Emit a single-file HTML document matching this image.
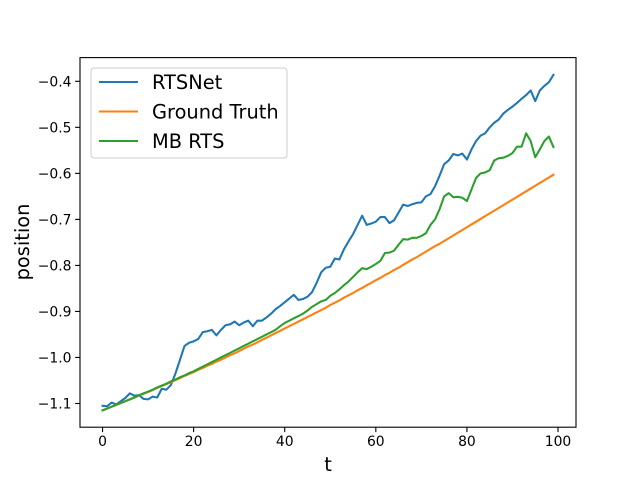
<!DOCTYPE html>
<html><head><meta charset="utf-8">
<style>html,body{margin:0;padding:0;background:#fff;}svg{display:block;font-family:"DejaVu Sans","Liberation Sans",sans-serif;}</style>
</head><body>
<svg id="chart" width="640" height="480" viewBox="0 0 640 480" xmlns="http://www.w3.org/2000/svg"></svg>
<script>
const rtsnet = [-1.105,-1.106,-1.098,-1.102,-1.095,-1.088,-1.078,-1.083,-1.082,-1.090,-1.091,-1.085,-1.087,-1.068,-1.070,-1.060,-1.035,-1.005,-0.975,-0.968,-0.965,-0.960,-0.945,-0.943,-0.940,-0.952,-0.940,-0.930,-0.928,-0.922,-0.930,-0.924,-0.920,-0.932,-0.920,-0.920,-0.913,-0.905,-0.895,-0.888,-0.880,-0.872,-0.864,-0.875,-0.873,-0.868,-0.858,-0.838,-0.815,-0.805,-0.803,-0.785,-0.787,-0.765,-0.748,-0.732,-0.712,-0.692,-0.712,-0.709,-0.705,-0.695,-0.695,-0.708,-0.702,-0.685,-0.668,-0.671,-0.667,-0.664,-0.663,-0.650,-0.645,-0.628,-0.605,-0.580,-0.572,-0.558,-0.561,-0.557,-0.570,-0.548,-0.530,-0.518,-0.513,-0.500,-0.490,-0.483,-0.470,-0.462,-0.455,-0.447,-0.438,-0.430,-0.420,-0.443,-0.420,-0.410,-0.402,-0.386];
const groundTruth = [-1.115,-1.111,-1.107,-1.103,-1.099,-1.095,-1.091,-1.087,-1.083,-1.079,-1.075,-1.071,-1.066,-1.062,-1.058,-1.054,-1.049,-1.045,-1.040,-1.036,-1.032,-1.027,-1.023,-1.018,-1.014,-1.009,-1.005,-1.000,-0.995,-0.991,-0.986,-0.981,-0.976,-0.972,-0.967,-0.962,-0.957,-0.952,-0.947,-0.942,-0.937,-0.932,-0.927,-0.922,-0.917,-0.912,-0.907,-0.902,-0.897,-0.892,-0.886,-0.881,-0.876,-0.870,-0.865,-0.860,-0.854,-0.849,-0.843,-0.838,-0.832,-0.827,-0.821,-0.816,-0.810,-0.805,-0.799,-0.793,-0.787,-0.782,-0.776,-0.770,-0.764,-0.758,-0.753,-0.747,-0.741,-0.735,-0.729,-0.723,-0.717,-0.711,-0.705,-0.699,-0.693,-0.687,-0.681,-0.675,-0.669,-0.663,-0.657,-0.651,-0.645,-0.639,-0.633,-0.627,-0.621,-0.615,-0.609,-0.603];
const mbRts = [-1.115,-1.111,-1.107,-1.103,-1.099,-1.095,-1.091,-1.087,-1.082,-1.078,-1.074,-1.070,-1.065,-1.061,-1.057,-1.052,-1.048,-1.043,-1.039,-1.034,-1.030,-1.025,-1.020,-1.015,-1.010,-1.005,-1.000,-0.995,-0.990,-0.985,-0.980,-0.975,-0.970,-0.965,-0.960,-0.955,-0.950,-0.945,-0.940,-0.932,-0.925,-0.920,-0.915,-0.910,-0.905,-0.898,-0.890,-0.884,-0.878,-0.875,-0.866,-0.860,-0.852,-0.843,-0.835,-0.825,-0.815,-0.806,-0.808,-0.803,-0.797,-0.790,-0.773,-0.772,-0.768,-0.755,-0.743,-0.744,-0.740,-0.740,-0.736,-0.730,-0.712,-0.700,-0.678,-0.650,-0.643,-0.652,-0.651,-0.653,-0.660,-0.635,-0.610,-0.600,-0.598,-0.593,-0.572,-0.567,-0.566,-0.562,-0.556,-0.542,-0.542,-0.513,-0.530,-0.565,-0.548,-0.530,-0.520,-0.543];
const xTicks = [0,20,40,60,80,100];
const yTicks = [-1.1,-1.0,-0.9,-0.8,-0.7,-0.6,-0.5,-0.4];
const yTickLabels = ["−1.1","−1.0","−0.9","−0.8","−0.7","−0.6","−0.5","−0.4"];
const seriesNames = ["RTSNet","Ground Truth","MB RTS"];
const seriesColors = ["#1f77b4","#ff7f0e","#2ca02c"];

const L=80,R=576,T=57.6,B=427.2;
const xMin=-4.95,xMax=103.95,yMin=-1.1515,yMax=-0.3485;
const xs=v=>L+(v-xMin)/(xMax-xMin)*(R-L);
const ys=v=>B-(v-yMin)/(yMax-yMin)*(B-T);
const NS="http://www.w3.org/2000/svg";
const svg=document.getElementById('chart');
function mk(tag,attrs,parent){const e=document.createElementNS(NS,tag);for(const k in attrs)e.setAttribute(k,attrs[k]);(parent||svg).appendChild(e);return e;}

const all=[rtsnet,groundTruth,mbRts];
all.forEach((s,i)=>{
  const d=s.map((v,t)=>(t?'L':'M')+xs(t).toFixed(2)+','+ys(v).toFixed(2)).join('');
  const p=mk('path',{d:d,fill:'none',stroke:seriesColors[i],'stroke-width':2.08,'stroke-linejoin':'round','stroke-linecap':'square'});
  
  
});

const frame=mk('rect',{x:L,y:T,width:R-L,height:B-T,fill:'none',stroke:'#000','stroke-width':1.1});



xTicks.forEach(v=>{
  const x=xs(v);
  const tk=mk('line',{x1:x,x2:x,y1:B,y2:B+4.9,stroke:'#000','stroke-width':1.1});
  
  
  const tx=mk('text',{x:x,y:B+19,'text-anchor':'middle','font-size':'13.9px',fill:'#000'});
  tx.textContent=v;
  
  
});
yTicks.forEach((v,i)=>{
  const y=ys(v);
  const tk=mk('line',{x1:L-4.9,x2:L,y1:y,y2:y,stroke:'#000','stroke-width':1.1});
  
  
  const tx=mk('text',{x:L-8.5,y:y+5,'text-anchor':'end','font-size':'13.9px',fill:'#000'});
  tx.textContent=yTickLabels[i];
  
  
});

const xl=mk('text',{x:328,y:471,'text-anchor':'middle','font-size':'19.4px',fill:'#000'});
xl.textContent='t';


const yl=mk('text',{x:0,y:0,'text-anchor':'middle','font-size':'19.4px',fill:'#000',transform:'translate(29,242) rotate(-90)'});
yl.textContent='position';



const lg=mk('g',{});


mk('rect',{x:91,y:68,width:196,height:90,rx:3,fill:'#fff','fill-opacity':0.8,stroke:'#ccc','stroke-width':1},lg);
seriesNames.forEach((n,i)=>{
  const y=82+i*29.5;
  const ln=mk('line',{x1:99,x2:138,y1:y,y2:y,stroke:seriesColors[i],'stroke-width':2.08},lg);
  
  
  const tx=mk('text',{x:152,y:y+7,'font-size':'19.4px',fill:'#000'},lg);
  tx.textContent=n;
  
  
});
</script>
</body></html>
